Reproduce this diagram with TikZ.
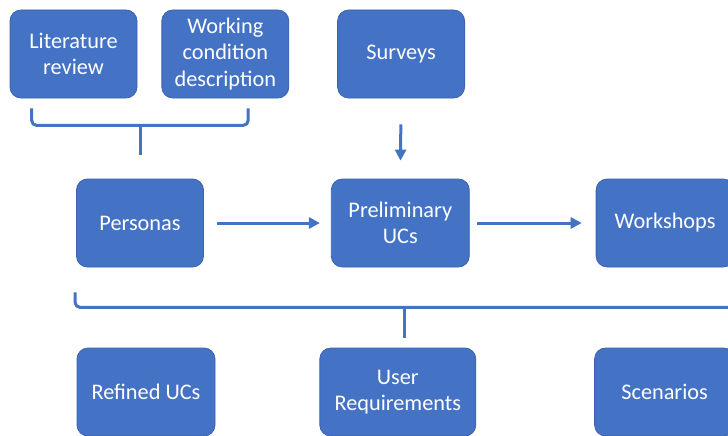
\documentclass[tikz,border=0pt]{standalone}
\usepackage{fontspec}
\setmainfont{Carlito}
\usetikzlibrary{positioning, calc, arrows.meta}
\definecolor{boxblue}{HTML}{4472C4}
\definecolor{boxedge}{HTML}{3B64AD}

\begin{document}
\begin{tikzpicture}[
        box/.style={
          align=center, draw=boxedge, fill=boxblue, text=white, line width=0.8pt,
          rounded corners=11pt, minimum width=127pt, minimum height=88pt,
          font=\fontsize{22.3}{26.5}\selectfont
        },
        conn/.style={
          draw=boxblue, line width=3pt, ->
        },
        brace/.style={
          draw=boxblue, line width=3pt, rounded corners=5pt
        },
        >={Triangle[length=11pt,width=11pt]},
      ]
        \useasboundingbox (0,0) rectangle (728pt,-436pt);
        \clip (0,0) rectangle (728pt,-436pt);

        % top row
        \node [box] (literature) at (73.5pt,-54pt) {Literature\\review};
        \node [box, right=24pt of literature] (working) {Working\\condition\\description};
        \node [box, right=48pt of working] (surveys) {Surveys};

        % middle row
        \node [box] (personas) at (140pt,-223pt) {Personas};
        \node [box, minimum width=138pt, right=127pt of personas] (preliminary) {Preliminary\\UCs};
        \node [box, minimum width=138pt, right=126pt of preliminary] (workshops) {Workshops};

        % bottom row
        \node [box, minimum width=138pt] (refined) at (146pt,-392pt) {Refined UCs};
        \node [box, minimum width=156pt, right=104pt of refined] (requirements) {User\\Requirements};
        \node [box, minimum width=140pt, right=118pt of requirements] (scenarios) {Scenarios};

        % brace ends
        \coordinate (top_left) at ($(literature.south west)+(22pt,-10pt)$);
        \coordinate (top_right) at ($(working.south east)+(-41pt,-10pt)$);
        \coordinate (top_tip) at ($(personas.north)+(0,24pt)$);
        \coordinate (bottom_left) at ($(personas.south west)+(-1pt,-25pt)$);
        \coordinate (bottom_right) at ($(workshops.south east)+(0,-25pt)$);
        \coordinate (bottom_tip) at ($(requirements.north)+(7pt,10pt)$);

        % braces
        \draw [brace] (top_left) -- ++(0,-17pt) -| (top_right);
        \draw [brace] (top_tip) -- ++(0,30pt);
        \draw [brace] (bottom_left) -- ++(0,-15pt) -| (bottom_right);
        \draw [brace] (bottom_tip) -- ++(0,31pt);

        % arrows
        \draw [conn, shorten <=26pt, shorten >=18pt] (surveys.south) -- (preliminary.north);
        \draw [conn, shorten <=13pt, shorten >=11pt] (personas) -- (preliminary);
        \draw [conn, shorten <=7pt, shorten >=14pt] (preliminary) -- (workshops);

      \end{tikzpicture}
\end{document}
